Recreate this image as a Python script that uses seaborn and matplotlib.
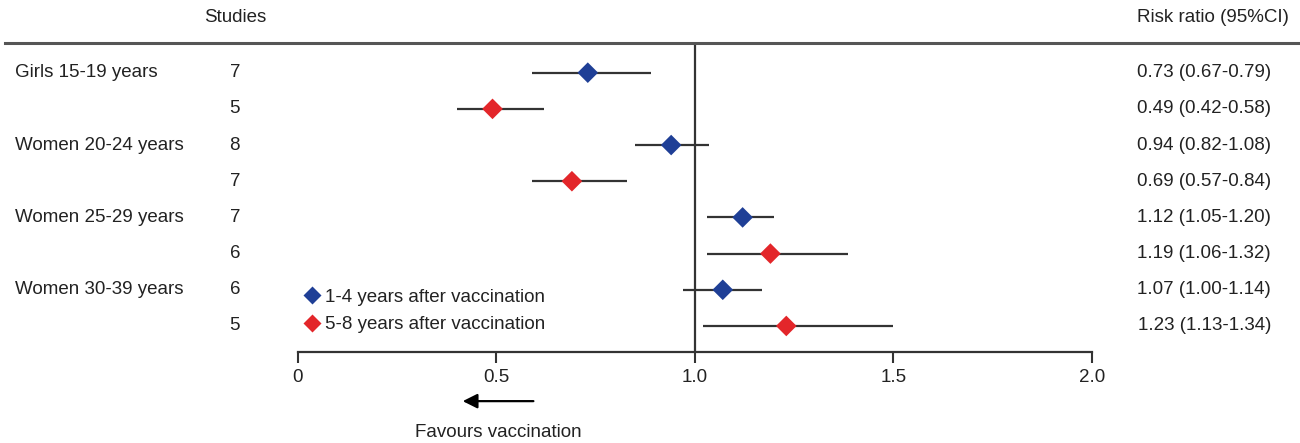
import numpy as np
import pandas as pd
import matplotlib.pyplot as plt
import seaborn as sns


# Data
groups = ['Girls 15-19 years', '', 'Women 20-24 years', '',
          'Women 25-29 years', '', 'Women 30-39 years', '']
periods = ['1-4 years after vaccination', '5-8 years after vaccination'] * 4
studies = [7, 5, 8, 7, 7, 6, 6, 5]
rr = [0.73, 0.49, 0.94, 0.69, 1.12, 1.19, 1.07, 1.23]
lower = [0.59, 0.40, 0.85, 0.59, 1.03, 1.03, 0.97, 1.02]
upper = [0.89, 0.62, 1.035, 0.83, 1.20, 1.385, 1.17, 1.50]
ci_text = ['0.73 (0.67-0.79)', '0.49 (0.42-0.58)', '0.94 (0.82-1.08)', '0.69 (0.57-0.84)',
           '1.12 (1.05-1.20)', '1.19 (1.06-1.32)', '1.07 (1.00-1.14)', '1.23 (1.13-1.34)']
xticks = [0, 0.5, 1.0, 1.5, 2.0]
xtick_labels = ['0', '0.5', '1.0', '1.5', '2.0']

df = pd.DataFrame({'group': groups, 'period': periods, 'studies': studies,
                   'rr': rr, 'lower': lower, 'upper': upper, 'ci': ci_text})
df['row'] = np.arange(len(df))

sns.set_style('white')
plt.rcParams['font.family'] = ['Liberation Sans', 'DejaVu Sans']
plt.rcParams['font.size'] = 13.5
plt.rcParams['text.color'] = '#222222'

blue = '#1f3f96'
red = '#e3262a'
dark = '#333333'

fig = plt.figure(figsize=(13, 4.43), dpi=100)
ax = fig.add_axes([0, 0.2054, 1, 0.6975])

# CI bars and point estimates
ax.hlines(df['row'], df['lower'], df['upper'], color=dark, lw=1.6, zorder=2)
sns.scatterplot(data=df, x='rr', y='row', hue='period', palette=[blue, red],
                marker='D', s=110, edgecolor='none', zorder=3, ax=ax)
ax.axvline(1.0, color=dark, lw=1.6, zorder=1)

ax.set_xlim(-0.7506, 2.524)
ax.set_ylim(7.72, -0.82)
ax.set_xlabel('')
ax.set_ylabel('')
ax.set_yticks([])
ax.set_xticks(xticks)
ax.set_xticklabels(xtick_labels)
ax.tick_params(axis='x', direction='out', length=8, width=1.5, color=dark,
               labelsize=13.5, labelcolor='#222222', pad=4, bottom=True)

for side in ['left', 'right']:
    ax.spines[side].set_visible(False)
ax.spines['bottom'].set_bounds(0, 2)
ax.spines['bottom'].set_color(dark)
ax.spines['bottom'].set_linewidth(1.6)
ax.spines['top'].set_bounds(-0.738, 2.524)
ax.spines['top'].set_color('#555555')
ax.spines['top'].set_linewidth(2.2)

# Table columns
for _, r in df.iterrows():
    if r['group']:
        ax.text(-0.712, r['row'], r['group'], ha='left', va='center')
    ax.text(-0.159, r['row'], str(r['studies']), ha='center', va='center')
    ax.text(2.451, r['row'], r['ci'], ha='right', va='center')

ax.text(-0.159, -1.52, 'Studies', ha='center', va='center')
ax.text(2.496, -1.52, 'Risk ratio (95%CI)', ha='right', va='center')

# Legend
handles, labels = ax.get_legend_handles_labels()
ax.legend(handles, labels, loc='upper left', bbox_to_anchor=(0.2254, 0.369),
          bbox_transform=fig.transFigure, frameon=False, handletextpad=0.2,
          handlelength=1.0, borderpad=0, labelspacing=0.55, fontsize=13.5,
          markerscale=0.85)

# Direction arrow
trans = ax.get_xaxis_transform()
ax.annotate('', xy=(0.408, -0.159), xytext=(0.60, -0.159), xycoords=trans,
            textcoords=trans, annotation_clip=False,
            arrowprops=dict(arrowstyle='-|>', color='black', lw=1.6, mutation_scale=22))
ax.text(0.504, -0.262, 'Favours vaccination', transform=trans, ha='center', va='center')

fig.savefig('out.png', dpi=100)
